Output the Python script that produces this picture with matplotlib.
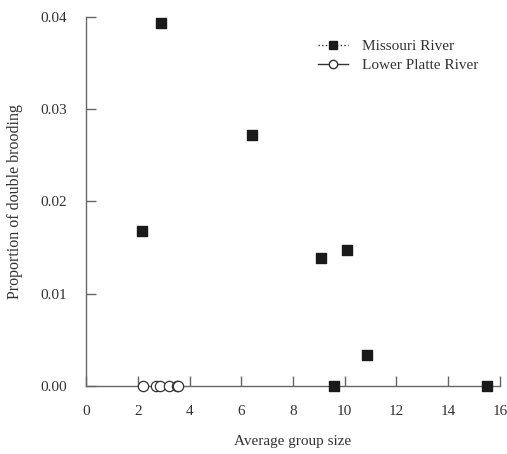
import matplotlib
matplotlib.use("Agg")
import matplotlib.pyplot as plt
from matplotlib.lines import Line2D

# data
missouri_size = [2.15, 2.9, 6.4, 9.1, 10.1, 10.85, 9.6, 15.5]
missouri_prop = [0.0168, 0.0394, 0.0272, 0.0139, 0.0147, 0.0034, 0.0, 0.0]
platte_size = [2.2, 2.7, 2.85, 3.2, 3.5, 3.55]
platte_prop = [0.0, 0.0, 0.0, 0.0, 0.0, 0.0]

xticks = [0, 2, 4, 6, 8, 10, 12, 14, 16]
yticks = [0.00, 0.01, 0.02, 0.03, 0.04]

plt.rcParams['font.family'] = ['Liberation Serif', 'DejaVu Serif']
plt.rcParams['font.size'] = 11

fig = plt.figure(figsize=(5.07, 4.54), dpi=100)
ax = fig.add_axes([0.17, 0.15, 0.816, 0.8126])

axis_col = '#666666'
text_col = '#333333'
ax.scatter(platte_size, platte_prop, s=55, facecolors='white', edgecolors='#333333',
           linewidths=0.9, clip_on=False, zorder=3)
ax.scatter(missouri_size, missouri_prop, s=60, marker='s', color='#1a1a1a',
           clip_on=False, zorder=4)

ax.set_xlim(0, 16)
ax.set_ylim(0, 0.04)
ax.set_xticks(xticks)
ax.set_yticks(yticks)
ax.set_xticklabels([str(t) for t in xticks])
ax.set_yticklabels(['%.2f' % t for t in yticks])
ax.tick_params(direction='in', length=7, width=1, color=axis_col,
               labelcolor=text_col, labelsize=11)
ax.tick_params(axis='y', pad=13.5)
ax.tick_params(axis='x', pad=14)
for s in ['top', 'right']:
    ax.spines[s].set_visible(False)
for s in ['left', 'bottom']:
    ax.spines[s].set_color(axis_col)
    ax.spines[s].set_linewidth(1)

ax.set_xlabel('Average group size', color=text_col, labelpad=12)
ax.set_ylabel('Proportion of double brooding', color=text_col, labelpad=13,
              fontsize=11.5)

handles = [
    Line2D([], [], color='#333333', linestyle=':', lw=1, marker='s', markersize=6,
           markerfacecolor='#1a1a1a', markeredgecolor='#1a1a1a'),
    Line2D([], [], color='#333333', linestyle='-', lw=1, marker='o', markersize=6,
           markerfacecolor='white', markeredgecolor='#333333'),
]
leg = ax.legend(handles, ['Missouri River', 'Lower Platte River'], loc='upper right',
                bbox_to_anchor=(0.971, 0.943), bbox_transform=fig.transFigure,
                frameon=False, handlelength=2, fontsize=11, labelspacing=0.35,
                handletextpad=0.9)
for t in leg.get_texts():
    t.set_color(text_col)

fig.savefig('out.png', dpi=100)
